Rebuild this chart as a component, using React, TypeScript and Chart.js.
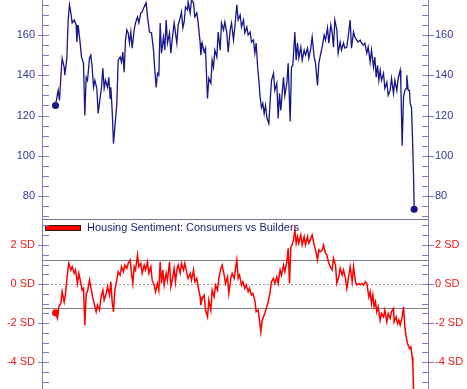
import React, { useEffect, useRef } from 'react';
import { Chart, registerables } from 'chart.js';
Chart.register(...registerables);

// x values are month indices since the start of the series
const topMonths = [0,4,6,8,10,13,14,17,19,21,23,25,28,31,32,34,37,39,42,44,46,48,51,53,55,57,59,62,64,67,69,71,73,75,78,80,82,83,85,87,89,92,94,97,99,101,103,105,107,109,111,113,115,118,120,123,125,128,130,133,136,138,141,144,147,149,151,153,155,157,159,162,164,166,168,171,173,175,178,182,184,187,189,191,193,195,198,199,202,204,207,209,212,214,217,218,220,223,225,227,228,230,233,235,237,239,242,244,247,249,252,254,257,259,262,264,267,269,272,274,277,279,282,284,287,289,292,294,297,299,301,303,305,307,309,311,313,315,317,320,322,324,327,329,332,334,336,338,340,342,344,347,349,352,354,356,359,361,363,365,368,370,373,375,378,380,383,385,388,390,393,395,398,400,403,405,408,410,413,415,417,419,422,424,427,429,432,434,437,439,442,444,447,449,452,454,457,459,462,464,467,469,472,474,477,479,481,483,485,487,489,492,494,497,499,502,504,507,509,512,514,517,518,520,522,524,526,527,529,531,532,534,535,537,538];
const topValues = [125,132.5,127.5,139,148.5,144,140,148.5,167.5,175,171,166,167.5,165,156.5,165,156,149,146,120,139,137.5,148.5,150,144,134,137.5,133.5,121,129,134,143.5,133.5,137.5,134,139,128.5,134,122.5,106,114,126,147.5,149,146.5,151.5,141.5,157.5,162.5,161,156,161.5,153.5,162.5,166,169,166,171,171.5,174,176,169,161.5,161,152.5,142.5,134,141,140,166,151,159,152.5,167.5,156,161,151,157.5,166,156,165,168.5,171.5,163.5,166.5,174,172.5,176.5,171,177.5,176,169,171,166,156,150,156,151.5,153.5,136,128.5,138.5,136,147.5,144,152.5,149,161.5,152.5,166,162.5,166.5,161,151.5,162.5,166,157.5,164,175,167.5,170,164,167.5,161,164,160,161.5,156.5,157.5,151,156,145,137.5,129,124,126,121,125,119,116,127.5,137.5,141,132.5,136,118.5,131,122.5,131,139,130,136,146,117,144,145,161.5,147.5,156,148.5,154,147.5,152.5,150,153.5,148.5,153.5,159,149,146,135,146,151,154,160,157.5,163.5,156,165,161,154,167.5,162.5,151,156.5,152.5,156,153.5,154,159,167.5,153.5,161.5,159,157.5,156.5,157.5,156,155,156,151,154,146.5,152.5,144,149,139,145,137.5,142.5,137.5,141,133.5,136.5,130,132.5,138.5,131,137.5,132.5,138.5,142.5,136,105,129,132.5,133.5,140,132.5,132.5,126,124,114,91,73.5];

const botMonths = [0,3,5,8,10,13,15,18,20,23,25,28,30,33,35,38,40,42,44,46,48,51,53,56,58,61,63,66,68,71,73,76,78,81,83,85,87,89,92,94,97,99,102,104,107,109,112,114,116,118,120,123,125,128,130,133,135,138,140,143,145,148,150,153,155,157,159,161,163,166,168,171,173,176,178,180,182,184,187,189,192,194,197,199,202,204,207,209,212,214,217,218,220,223,225,228,230,233,235,238,240,243,245,248,250,253,255,258,260,263,265,268,270,272,274,276,279,281,284,286,289,291,294,296,299,301,304,306,308,310,312,314,317,319,322,324,327,329,332,334,337,339,342,344,347,349,351,353,355,357,359,361,363,365,368,370,373,375,378,380,383,385,388,390,393,395,397,400,402,405,407,410,412,415,417,420,422,425,427,430,432,435,437,440,442,445,447,450,452,455,457,460,462,465,467,470,472,474,476,478,480,482,484,487,489,492,494,497,499,502,504,507,508,511,513,515,517,520,522,524,526,528,531,533,535,536,538];
const botValues = [-1.47,-1.76,-1.16,-0.98,-0.39,-0.91,-0.48,0.55,1.06,0.72,0.89,0.55,0.72,0.03,0.55,0.05,-0.31,-0.22,-2.1,-0.48,-0.39,0.2,-0.14,-0.73,-0.99,-1.42,-1.08,-1.33,-0.73,-0.31,-0.82,-0.48,-0.14,-0.56,0.12,-0.91,-1.42,-0.31,0.2,0.63,0.46,0.89,0.63,0.97,0.8,1.06,1.23,0.55,0.03,0.89,0.72,1.49,0.89,1.06,0.55,0.97,0.72,1.14,0.55,0.89,0.2,-0.05,-0.39,0.03,-0.31,1.14,0.03,0.72,-0.05,0.55,0.2,1.14,-0.14,0.37,0.8,0.1,0.72,0.97,0.55,1.06,0.72,1.06,0.55,0.29,0.55,0.2,0.72,0.12,0.29,-0.14,-0.65,-1.08,-0.73,-0.56,-1.33,-1.68,-0.82,-1.33,-0.31,-0.65,-0.05,-0.31,0.29,0.8,0.97,0.46,0.03,0.37,-0.48,0.29,0.55,0.29,0.8,1.23,0.29,0.46,-0.05,0.12,-0.22,-0.05,-0.39,-0.22,-0.56,-0.48,-0.82,-1.42,-1.33,-1.85,-2.45,-1.85,-1.68,-1.5,-1.16,-0.91,-0.39,0.12,0.29,0.03,0.37,0.03,0.72,0.46,0.97,0.63,1.14,1.83,0.03,1.9,2.0,2.26,2.77,2.09,2.43,2.09,2.51,2.0,2.43,2.0,2.43,2.09,2.34,2.51,2.0,1.74,1.23,1.74,1.66,1.74,2.0,1.57,1.49,1.06,0.89,0.72,1.32,0.97,0.03,0.37,0.8,0.46,0.72,0.29,-0.22,0.46,0.89,0.12,0.89,0.12,-0.05,0.03,-0.05,0.03,-0.05,0.12,0.03,-0.65,-0.39,-0.99,-0.56,-1.16,-0.91,-1.42,-1.16,-1.85,-1.5,-1.68,-1.33,-1.93,-1.5,-1.76,-1.42,-1.25,-1.93,-1.68,-2.02,-1.85,-2.1,-1.68,-1.16,-2.19,-2.7,-3.04,-3.3,-3.21,-3.73,-4.15,-6.5];

const TOP_LABEL_TICKS = [80, 100, 120, 140, 160];
const BOT_LABEL_TICKS = [2, 0, -2, -4];
const TOP_MIN = 68.6, TOP_MAX = 177.4;
const BOT_MIN = -5.37, BOT_MAX = 3.33;
const X_MIN = -18.75, X_MAX = 558.75;
const BAND_UPPER = 1.22;
const BAND_LOWER = -1.25;
const TOP_LABEL = 'Housing Sentiment Index';
const BOT_LABEL = 'Housing Sentiment: Consumers vs Builders';

const AXIS_COLOR = '#7b7bc4';
const NAVY = '#16168a';
const RED = '#ff0000';
const FONT = 'Liberation Sans, Arial, sans-serif';

function axesPlugin(minorStep: number, majorStep: number, min: number, max: number) {
  return {
    id: 'axesPlugin',
    afterDraw(chart: any) {
      const { ctx, chartArea } = chart;
      const { left, right, top, bottom } = chartArea;
      const y = chart.scales.y;
      ctx.save();
      ctx.strokeStyle = AXIS_COLOR;
      ctx.lineWidth = 1;
      ctx.beginPath();
      ctx.moveTo(left - 0.5, top);
      ctx.lineTo(left - 0.5, bottom);
      ctx.moveTo(right + 0.5, top);
      ctx.lineTo(right + 0.5, bottom);
      const start = Math.ceil(min / minorStep);
      const end = Math.floor(max / minorStep);
      for (let k = start; k <= end; k++) {
        const v = k * minorStep;
        const py = Math.round(y.getPixelForValue(v)) + 0.5;
        const r = v / majorStep;
        const major = Math.abs(r - Math.round(r)) < 1e-6;
        ctx.moveTo(left - (major ? 5 : 0), py);
        ctx.lineTo(left + 6, py);
        ctx.moveTo(right - 6, py);
        ctx.lineTo(right + 1 + (major ? 5 : 0), py);
      }
      ctx.stroke();
      ctx.restore();
    },
  };
}

const bandsPlugin = {
  id: 'bandsPlugin',
  beforeDatasetsDraw(chart: any) {
    const { ctx, chartArea } = chart;
    const { left, right } = chartArea;
    const y = chart.scales.y;
    ctx.save();
    ctx.lineWidth = 1;
    ctx.strokeStyle = '#808080';
    ctx.beginPath();
    [BAND_UPPER, BAND_LOWER].forEach((v) => {
      const py = Math.round(y.getPixelForValue(v)) + 0.5;
      ctx.moveTo(left, py);
      ctx.lineTo(right, py);
    });
    ctx.stroke();
    ctx.strokeStyle = '#a0a0a0';
    ctx.setLineDash([2, 2]);
    ctx.beginPath();
    const pz = Math.round(y.getPixelForValue(0)) + 0.5;
    ctx.moveTo(left, pz);
    ctx.lineTo(right, pz);
    ctx.stroke();
    ctx.restore();
  },
  afterDraw(chart: any) {
    const { ctx, chartArea } = chart;
    const { left, right, top } = chartArea;
    ctx.save();
    ctx.strokeStyle = '#74749a';
    ctx.lineWidth = 1;
    ctx.beginPath();
    ctx.moveTo(left, top + 0.5);
    ctx.lineTo(right, top + 0.5);
    ctx.stroke();
    // legend
    ctx.fillStyle = RED;
    ctx.fillRect(left + 2.5, top + 6.5, 35, 5);
    ctx.strokeStyle = '#301010';
    ctx.strokeRect(left + 2.5, top + 6.5, 35, 5);
    ctx.fillStyle = '#1c1c78';
    ctx.font = `11px ${FONT}`;
    ctx.textBaseline = 'middle';
    ctx.textAlign = 'left';
    ctx.fillText(chart.data.datasets[0].label, left + 44, top + 9);
    ctx.restore();
  },
};

function makeScale(pos: 'left' | 'right', min: number, max: number, ticks: number[], color: string, fmt: (v: number) => string) {
  return {
    type: 'linear',
    position: pos,
    min,
    max,
    grid: { display: false, drawTicks: false },
    border: { display: false },
    afterBuildTicks: (s: any) => {
      s.ticks = ticks.map((v) => ({ value: v }));
    },
    afterFit: (s: any) => {
      s.width = pos === 'left' ? 43 : 39;
      s.paddingTop = 0;
      s.paddingBottom = 0;
    },
    ticks: {
      autoSkip: false,
      includeBounds: false,
      padding: pos === 'left' ? 8 : 7,
      color,
      font: { family: FONT, size: 11 },
      callback: (v: any) => fmt(Number(v)),
    },
  };
}

function dotRadius(ctx: any) {
  const n = ctx.dataset.data.length;
  return ctx.dataIndex === 0 || ctx.dataIndex === n - 1 ? 3.5 : 0;
}

export default function App() {
  const topRef = useRef<HTMLCanvasElement>(null);
  const botRef = useRef<HTMLCanvasElement>(null);

  useEffect(() => {
    const topData = topMonths.map((m, i) => ({ x: m, y: topValues[i] }));
    const botData = botMonths.map((m, i) => ({ x: m, y: botValues[i] }));
    const common = {
      animation: false,
      responsive: false,
      maintainAspectRatio: false,
      layout: { padding: 0, autoPadding: false },
      plugins: { legend: { display: false }, tooltip: { enabled: false }, title: { display: false } },
    };
    const c1 = new Chart(topRef.current as HTMLCanvasElement, {
      type: 'line',
      data: {
        datasets: [{
          label: TOP_LABEL,
          data: topData,
          borderColor: NAVY,
          backgroundColor: NAVY,
          borderWidth: 1.3,
          pointRadius: dotRadius,
          pointBackgroundColor: NAVY,
          pointBorderColor: NAVY,
          pointBorderWidth: 0,
          tension: 0,
        }],
      },
      options: {
        ...common,
        scales: {
          x: { type: 'linear', display: false, min: X_MIN, max: X_MAX },
          y: makeScale('left', TOP_MIN, TOP_MAX, TOP_LABEL_TICKS, '#3535a0', (v) => String(v)),
          y2: makeScale('right', TOP_MIN, TOP_MAX, TOP_LABEL_TICKS, '#3535a0', (v) => String(v)),
        },
      } as any,
      plugins: [axesPlugin(5, 20, TOP_MIN, TOP_MAX)],
    } as any);
    const c2 = new Chart(botRef.current as HTMLCanvasElement, {
      type: 'line',
      data: {
        datasets: [{
          label: BOT_LABEL,
          data: botData,
          borderColor: RED,
          backgroundColor: RED,
          borderWidth: 1.5,
          pointRadius: dotRadius,
          pointBackgroundColor: RED,
          pointBorderColor: RED,
          pointBorderWidth: 0,
          tension: 0,
        }],
      },
      options: {
        ...common,
        scales: {
          x: { type: 'linear', display: false, min: X_MIN, max: X_MAX },
          y: makeScale('left', BOT_MIN, BOT_MAX, BOT_LABEL_TICKS, '#f01818', (v) => `${v} SD`),
          y2: makeScale('right', BOT_MIN, BOT_MAX, BOT_LABEL_TICKS, '#f01818', (v) => `${v} SD`),
        },
      } as any,
      plugins: [bandsPlugin, axesPlugin(0.5, 2, BOT_MIN, BOT_MAX)],
    } as any);
    return () => {
      c1.destroy();
      c2.destroy();
    };
  }, []);

  return (
    <div style={{ position: 'absolute', left: 0, top: 0, width: 467, height: 389, background: '#fff', overflow: 'hidden' }}>
      <canvas ref={topRef} width={467} height={219} style={{ position: 'absolute', left: 0, top: 0, width: 467, height: 219 }} />
      <canvas ref={botRef} width={467} height={170} style={{ position: 'absolute', left: 0, top: 219, width: 467, height: 170 }} />
    </div>
  );
}
